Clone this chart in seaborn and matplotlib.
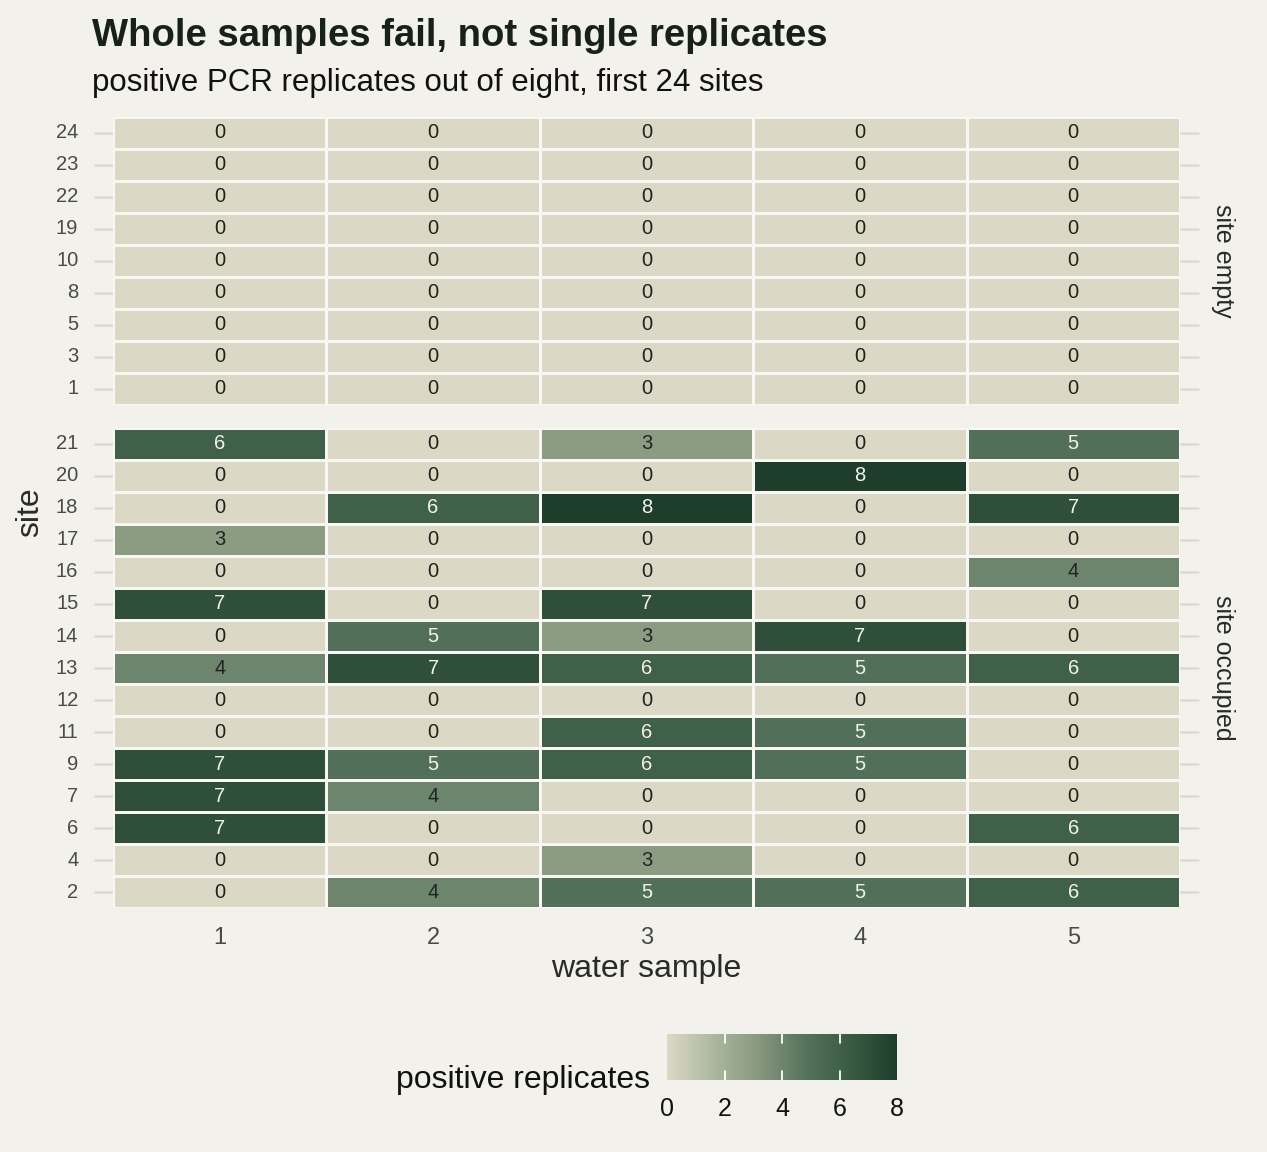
import numpy as np
import pandas as pd
import matplotlib
matplotlib.use("Agg")
import matplotlib.pyplot as plt
import seaborn as sns
from matplotlib.colors import LinearSegmentedColormap, Normalize
from matplotlib.cm import ScalarMappable

# data: positive PCR replicates (out of 8) per site x water sample
samples = [1, 2, 3, 4, 5]

sites_empty = [24, 23, 22, 19, 10, 8, 5, 3, 1]
values_empty = [[0, 0, 0, 0, 0] for _ in sites_empty]

sites_occupied = [21, 20, 18, 17, 16, 15, 14, 13, 12, 11, 9, 7, 6, 4, 2]
values_occupied = [
    [6, 0, 3, 0, 5],
    [0, 0, 0, 8, 0],
    [0, 6, 8, 0, 7],
    [3, 0, 0, 0, 0],
    [0, 0, 0, 0, 4],
    [7, 0, 7, 0, 0],
    [0, 5, 3, 7, 0],
    [4, 7, 6, 5, 6],
    [0, 0, 0, 0, 0],
    [0, 0, 6, 5, 0],
    [7, 5, 6, 5, 0],
    [7, 4, 0, 0, 0],
    [7, 0, 0, 0, 6],
    [0, 0, 3, 0, 0],
    [0, 4, 5, 5, 6],
]

groups = ["site empty", "site occupied"]

# long table, then one pivot per facet
rows = []
for grp, sites, vals in [("site empty", sites_empty, values_empty),
                         ("site occupied", sites_occupied, values_occupied)]:
    for s, v in zip(sites, vals):
        for smp, x in zip(samples, v):
            rows.append({"group": grp, "site": s, "sample": smp, "positive": x})
df = pd.DataFrame(rows)

bg = "#F2F1EB"
cmap = LinearSegmentedColormap.from_list(
    "moss", ["#DBD9C5", "#ADB7A0", "#86987E", "#56735C", "#3A5A43", "#1E3E2B"])
norm = Normalize(0, 8)

sns.set_theme(style="white")
plt.rcParams["font.family"] = ["Liberation Sans", "DejaVu Sans"]

fig = plt.figure(figsize=(12.67, 11.52), dpi=100, facecolor=bg)

W, H = 1267, 1152
left, right = 113, 1180
panels = {"site empty": (117, 405), "site occupied": (428, 908)}
site_order = {"site empty": sites_empty, "site occupied": sites_occupied}

axes = []
for grp in groups:
    top, bot = panels[grp]
    ax = fig.add_axes([left / W, 1 - bot / H, (right - left) / W, (bot - top) / H])
    ax.set_facecolor(bg)
    mat = (df[df.group == grp]
           .pivot(index="site", columns="sample", values="positive")
           .loc[site_order[grp], samples])
    sns.heatmap(mat, ax=ax, cmap=cmap, vmin=0, vmax=8, cbar=False,
                linewidths=1.8, linecolor="#F8F7F3", annot=True, fmt="d",
                annot_kws={"fontsize": 14.5})
    for t in ax.texts:
        v = int(t.get_text())
        t.set_color("#F3F2EA" if v >= 5 else "#1F241F")
    ax.set_ylabel("")
    ax.set_xlabel("")
    ax.tick_params(axis="y", left=True, right=True, labelleft=True,
                   labelright=False, length=14, width=1.8, color="#DCDBD2",
                   labelsize=14.5, labelcolor="#4A4A4A", pad=11, rotation=0)
    if grp == "site occupied":
        ax.tick_params(axis="x", bottom=True, length=0, labelsize=17,
                       labelcolor="#4A4A4A", pad=14)
    else:
        ax.tick_params(axis="x", bottom=False, labelbottom=False)
    for sp in ax.spines.values():
        sp.set_visible(False)
    # facet strip label
    ax.text(1.04, 0.5, grp, transform=ax.transAxes, rotation=-90,
            ha="center", va="center", fontsize=18, color="#2A2A2A")
    axes.append(ax)

fig.text(30 / W, 1 - 512 / H, "site", rotation=90, ha="center", va="center",
         fontsize=23, color="#2A2A2A")
fig.text(646 / W, 1 - 969 / H, "water sample", ha="center", va="center",
         fontsize=23, color="#2A2A2A")

fig.text(92 / W, 1 - 46 / H, "Whole samples fail, not single replicates",
         ha="left", va="baseline", fontsize=27.5, fontweight="bold", color="#17211A")
fig.text(92 / W, 1 - 91 / H, "positive PCR replicates out of eight, first 24 sites",
         ha="left", va="baseline", fontsize=22.5, color="#111111")

# colour bar legend
cax = fig.add_axes([667 / W, 1 - 1080 / H, 230 / W, 46 / H])
cb = fig.colorbar(ScalarMappable(norm=norm, cmap=cmap), cax=cax,
                  orientation="horizontal", ticks=[0, 2, 4, 6, 8])
cb.outline.set_visible(False)
cax.tick_params(axis="x", length=0, labelsize=18, labelcolor="#111111", pad=12)
for v in [2, 4, 6]:
    cax.axvline(v, 0, 0.2, color="white", lw=1.3)
    cax.axvline(v, 0.8, 1, color="white", lw=1.3)
fig.text(650 / W, 1 - 1080 / H, "positive replicates", ha="right", va="center",
         fontsize=23, color="#111111")

fig.savefig("out.png", dpi=100, facecolor=bg)
